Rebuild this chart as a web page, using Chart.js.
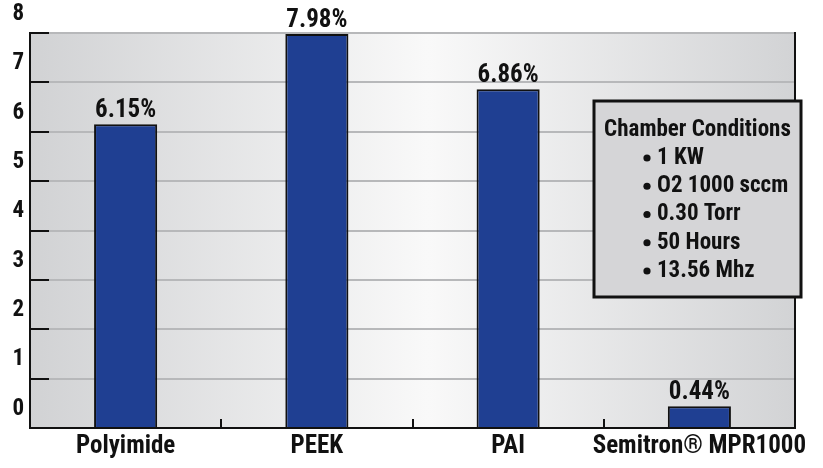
<!DOCTYPE html>
<html>
<head>
<meta charset="utf-8">
<script src="https://cdn.jsdelivr.net/npm/chart.js@4.4.1/dist/chart.umd.min.js"></script>
<style>
    html, body { margin: 0; padding: 0; background: #ffffff; }
    #wrap { position: relative; width: 823px; height: 468px; }
</style>
</head>
<body>
<div id="wrap"><canvas id="weightLossGraph"></canvas></div>
<script>
var materials = ["Polyimide", "PEEK", "PAI", "Semitron® MPR1000"];
var weightLoss = [6.15, 7.98, 6.86, 0.44];
var conditionsTitle = "Chamber Conditions";
var conditions = ["1 KW", "O2 1000 sccm", "0.30 Torr", "50 Hours", "13.56 Mhz"];

var fontFamily = "'Liberation Sans Narrow', 'Arial Narrow', 'Roboto Condensed', Roboto, sans-serif";
var inkColor = "#111111";
var barColor = "#1f3f92";
var gridColor = "#b7b8ba";

// plot background: grey at the edges, almost white in the middle
var backgroundPlugin = {
    id: "plotBackground",
    beforeDraw: function (chart) {
        var area = chart.chartArea;
        var ctx = chart.ctx;
        var gradient = ctx.createLinearGradient(area.left, 0, area.right, 0);
        gradient.addColorStop(0, "#d1d2d4");
        gradient.addColorStop(0.52, "#f9f9f9");
        gradient.addColorStop(1, "#d2d3d5");
        ctx.save();
        ctx.fillStyle = gradient;
        ctx.fillRect(area.left, area.top, area.right - area.left, area.bottom - area.top);
        ctx.restore();
    },
};

// tick marks point into the plot, not out of it
var innerTicksPlugin = {
    id: "innerTicks",
    afterDraw: function (chart) {
        var ctx = chart.ctx;
        var area = chart.chartArea;
        var yScale = chart.scales.y;
        var xScale = chart.scales.x;
        ctx.save();
        ctx.strokeStyle = inkColor;
        ctx.lineWidth = 2;
        ctx.beginPath();
        for (var tick of yScale.ticks) {
            if (tick.value == 0) {
                continue;
            }
            var y = Math.round(yScale.getPixelForValue(tick.value));
            ctx.moveTo(area.left, y);
            ctx.lineTo(area.left + 19, y);
        }
        for (var i = 0; i < materials.length - 1; i++) {
            var x = Math.round((xScale.getPixelForValue(i) + xScale.getPixelForValue(i + 1)) / 2);
            ctx.moveTo(x, area.bottom);
            ctx.lineTo(x, area.bottom - 9);
        }
        ctx.stroke();
        ctx.restore();
    },
};

// percentage above every bar
var valueLabelPlugin = {
    id: "valueLabels",
    afterDraw: function (chart) {
        var ctx = chart.ctx;
        var meta = chart.getDatasetMeta(0);
        ctx.save();
        ctx.font = "bold 25px " + fontFamily;
        ctx.fillStyle = inkColor;
        ctx.textAlign = "center";
        ctx.textBaseline = "alphabetic";
        meta.data.forEach(function (bar, index) {
            ctx.fillText(weightLoss[index].toFixed(2) + "%", bar.x, bar.y - 7);
        });
        ctx.restore();
    },
};

// boxed note with the chamber conditions
var conditionsBoxPlugin = {
    id: "conditionsBox",
    afterDraw: function (chart) {
        var ctx = chart.ctx;
        var area = chart.chartArea;
        var boxX = area.right - 201;
        var boxY = area.top + 68;
        var boxW = 207;
        var boxH = 196;
        ctx.save();
        ctx.fillStyle = "#d5d5d7";
        ctx.fillRect(boxX, boxY, boxW, boxH);
        ctx.strokeStyle = inkColor;
        ctx.lineWidth = 3;
        ctx.strokeRect(boxX, boxY, boxW, boxH);
        ctx.fillStyle = inkColor;
        ctx.font = "bold 23px " + fontFamily;
        ctx.textBaseline = "middle";
        ctx.textAlign = "center";
        ctx.fillText(conditionsTitle, boxX + boxW / 2, boxY + 29);
        ctx.textAlign = "left";
        conditions.forEach(function (line, index) {
            var y = boxY + 57 + index * 28.25;
            ctx.beginPath();
            ctx.arc(boxX + 53, y, 3.6, 0, Math.PI * 2);
            ctx.fill();
            ctx.fillText(line, boxX + 63, y);
        });
        ctx.restore();
    },
};

function create_weight_loss_graph() {
    var config = {
        type: "bar",
        data: {
            labels: materials,
            datasets: [
                {
                    label: "Weight loss",
                    data: weightLoss,
                    backgroundColor: barColor,
                    borderColor: inkColor,
                    borderWidth: 2,
                    barPercentage: 0.33,
                    categoryPercentage: 1,
                },
            ],
        },
        options: {
            responsive: true,
            maintainAspectRatio: false,
            animation: false,
            layout: {
                padding: { top: 33, right: 28, left: 0, bottom: 0 },
            },
            plugins: {
                legend: { display: false },
                tooltip: { enabled: false },
            },
            scales: {
                x: {
                    grid: { display: false, drawTicks: false },
                    border: { display: true, color: inkColor, width: 2 },
                    ticks: {
                        color: inkColor,
                        padding: 4,
                        font: { family: fontFamily, size: 25, weight: "bold" },
                        maxRotation: 0,
                        autoSkip: false,
                    },
                    afterFit: function (scale) {
                        scale.height = 40;
                        scale.paddingLeft = 0;
                        scale.paddingRight = 0;
                    },
                },
                y: {
                    min: 0,
                    max: 8,
                    z: 1,
                    ticks: {
                        stepSize: 1,
                        color: inkColor,
                        padding: 6,
                        labelOffset: -19,
                        font: { family: fontFamily, size: 23, weight: "bold" },
                    },
                    grid: {
                        drawTicks: false,
                        lineWidth: 2,
                        color: function (context) {
                            return context.tick && context.tick.value == 0 ? "rgba(0,0,0,0)" : gridColor;
                        },
                    },
                    border: { display: true, color: inkColor, width: 2 },
                    afterFit: function (scale) {
                        scale.width = 30;
                        scale.paddingTop = 0;
                        scale.paddingBottom = 0;
                    },
                },
                yRight: {
                    position: "right",
                    min: 0,
                    max: 8,
                    grid: { display: false, drawTicks: false },
                    ticks: { display: false },
                    border: { display: true, color: inkColor, width: 2 },
                    afterFit: function (scale) {
                        scale.width = 0;
                    },
                },
            },
        },
        plugins: [backgroundPlugin, innerTicksPlugin, valueLabelPlugin, conditionsBoxPlugin],
    };
    return new Chart("weightLossGraph", config);
}

create_weight_loss_graph();
</script>
</body>
</html>
